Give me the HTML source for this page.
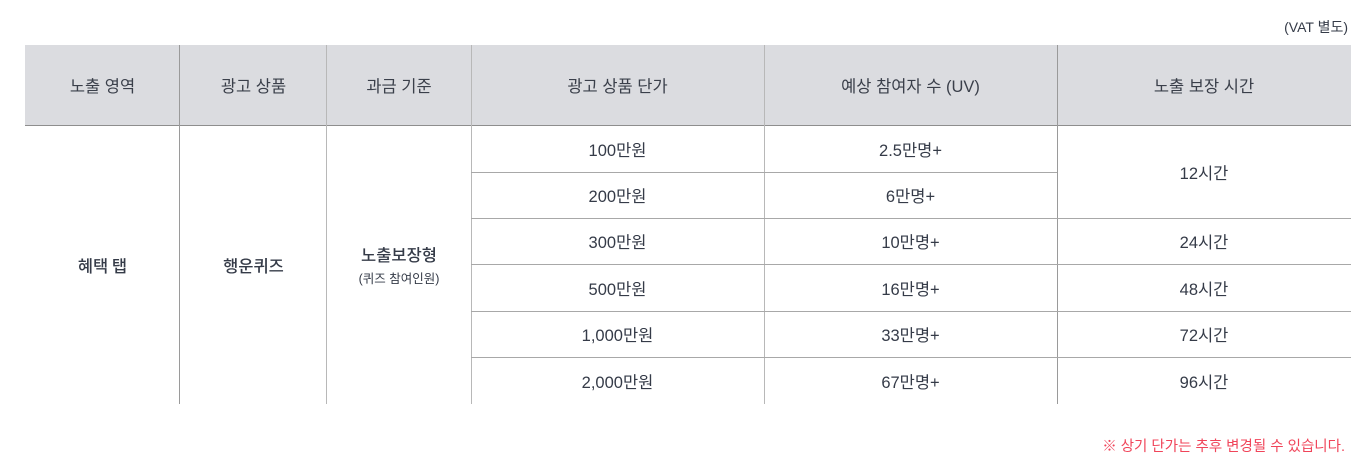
<!DOCTYPE html>
<html><head><meta charset="utf-8"><style>
body{margin:0;width:1369px;height:472px;background:#fff;font-family:"Liberation Sans","Noto Sans CJK KR",sans-serif;color:#353b48;position:relative;overflow:hidden}
.a{position:absolute;display:flex;align-items:center;justify-content:center;font-size:16.5px;text-align:center;box-sizing:border-box}
.h{background:#dbdce0;font-size:16.5px;color:#3a3f4a}
.m{font-family:"Noto Sans CJK KR",sans-serif;font-weight:500}
.vl{position:absolute;width:1px;background:#a8a8a8}
.hl{position:absolute;height:1px;background:#a8a8a8}
</style></head><body>
<div class="a" style="left:1200px;top:16px;width:148px;height:22px;font-size:14px;justify-content:flex-end">(VAT 별도)</div>
<div>
<div class="a h" style="left:25px;top:45px;width:155px;height:80px">노출 영역</div>
<div class="a h" style="left:180px;top:45px;width:147px;height:80px">광고 상품</div>
<div class="a h" style="left:327px;top:45px;width:144px;height:80px">과금 기준</div>
<div class="a h" style="left:471px;top:45px;width:293px;height:80px">광고 상품 단가</div>
<div class="a h" style="left:764px;top:45px;width:293px;height:80px">예상 참여자 수 (UV)</div>
<div class="a h" style="left:1057px;top:45px;width:294px;height:80px">노출 보장 시간</div>
<div class="hl" style="left:25px;top:125px;width:1326px;background:#8e8e8e"></div>
<div class="vl" style="left:179px;top:45px;height:359px;background:#9a9a9a"></div>
<div class="vl" style="left:326px;top:45px;height:359px;background:#b8b8b8"></div>
<div class="vl" style="left:471px;top:45px;height:359px;background:#b8b8b8"></div>
<div class="vl" style="left:764px;top:45px;height:359px;background:#b8b8b8"></div>
<div class="vl" style="left:1057px;top:45px;height:359px;background:#9a9a9a"></div>
<div class="hl" style="left:471px;top:172px;width:586px"></div>
<div class="hl" style="left:471px;top:218px;width:880px"></div>
<div class="hl" style="left:471px;top:264px;width:880px"></div>
<div class="hl" style="left:471px;top:311px;width:880px"></div>
<div class="hl" style="left:471px;top:357px;width:880px"></div>
<div class="a m" style="left:25px;top:126px;width:155px;height:278px">혜택 탭</div>
<div class="a m" style="left:180px;top:126px;width:147px;height:278px">행운퀴즈</div>
<div class="a" style="left:327px;top:126px;width:144px;height:278px;flex-direction:column"><div class="m" style="line-height:20px">노출보장형</div><div style="font-size:12.5px;margin-top:4px">(퀴즈 참여인원)</div></div>
<div class="a" style="left:471px;top:126px;width:293px;height:46px">100만원</div>
<div class="a" style="left:471px;top:172px;width:293px;height:46px">200만원</div>
<div class="a" style="left:471px;top:218px;width:293px;height:46px">300만원</div>
<div class="a" style="left:471px;top:264px;width:293px;height:47px">500만원</div>
<div class="a" style="left:471px;top:311px;width:293px;height:46px">1,000만원</div>
<div class="a" style="left:471px;top:357px;width:293px;height:47px">2,000만원</div>
<div class="a" style="left:764px;top:126px;width:293px;height:46px">2.5만명+</div>
<div class="a" style="left:764px;top:172px;width:293px;height:46px">6만명+</div>
<div class="a" style="left:764px;top:218px;width:293px;height:46px">10만명+</div>
<div class="a" style="left:764px;top:264px;width:293px;height:47px">16만명+</div>
<div class="a" style="left:764px;top:311px;width:293px;height:46px">33만명+</div>
<div class="a" style="left:764px;top:357px;width:293px;height:47px">67만명+</div>
<div class="a" style="left:1057px;top:126px;width:294px;height:92px">12시간</div>
<div class="a" style="left:1057px;top:218px;width:294px;height:46px">24시간</div>
<div class="a" style="left:1057px;top:264px;width:294px;height:47px">48시간</div>
<div class="a" style="left:1057px;top:311px;width:294px;height:46px">72시간</div>
<div class="a" style="left:1057px;top:357px;width:294px;height:47px">96시간</div>
</div>
<div class="a" style="left:900px;top:434px;width:445px;height:22px;font-size:14.5px;color:#f0455a;justify-content:flex-end">※ 상기 단가는 추후 변경될 수 있습니다.</div>
</body></html>
